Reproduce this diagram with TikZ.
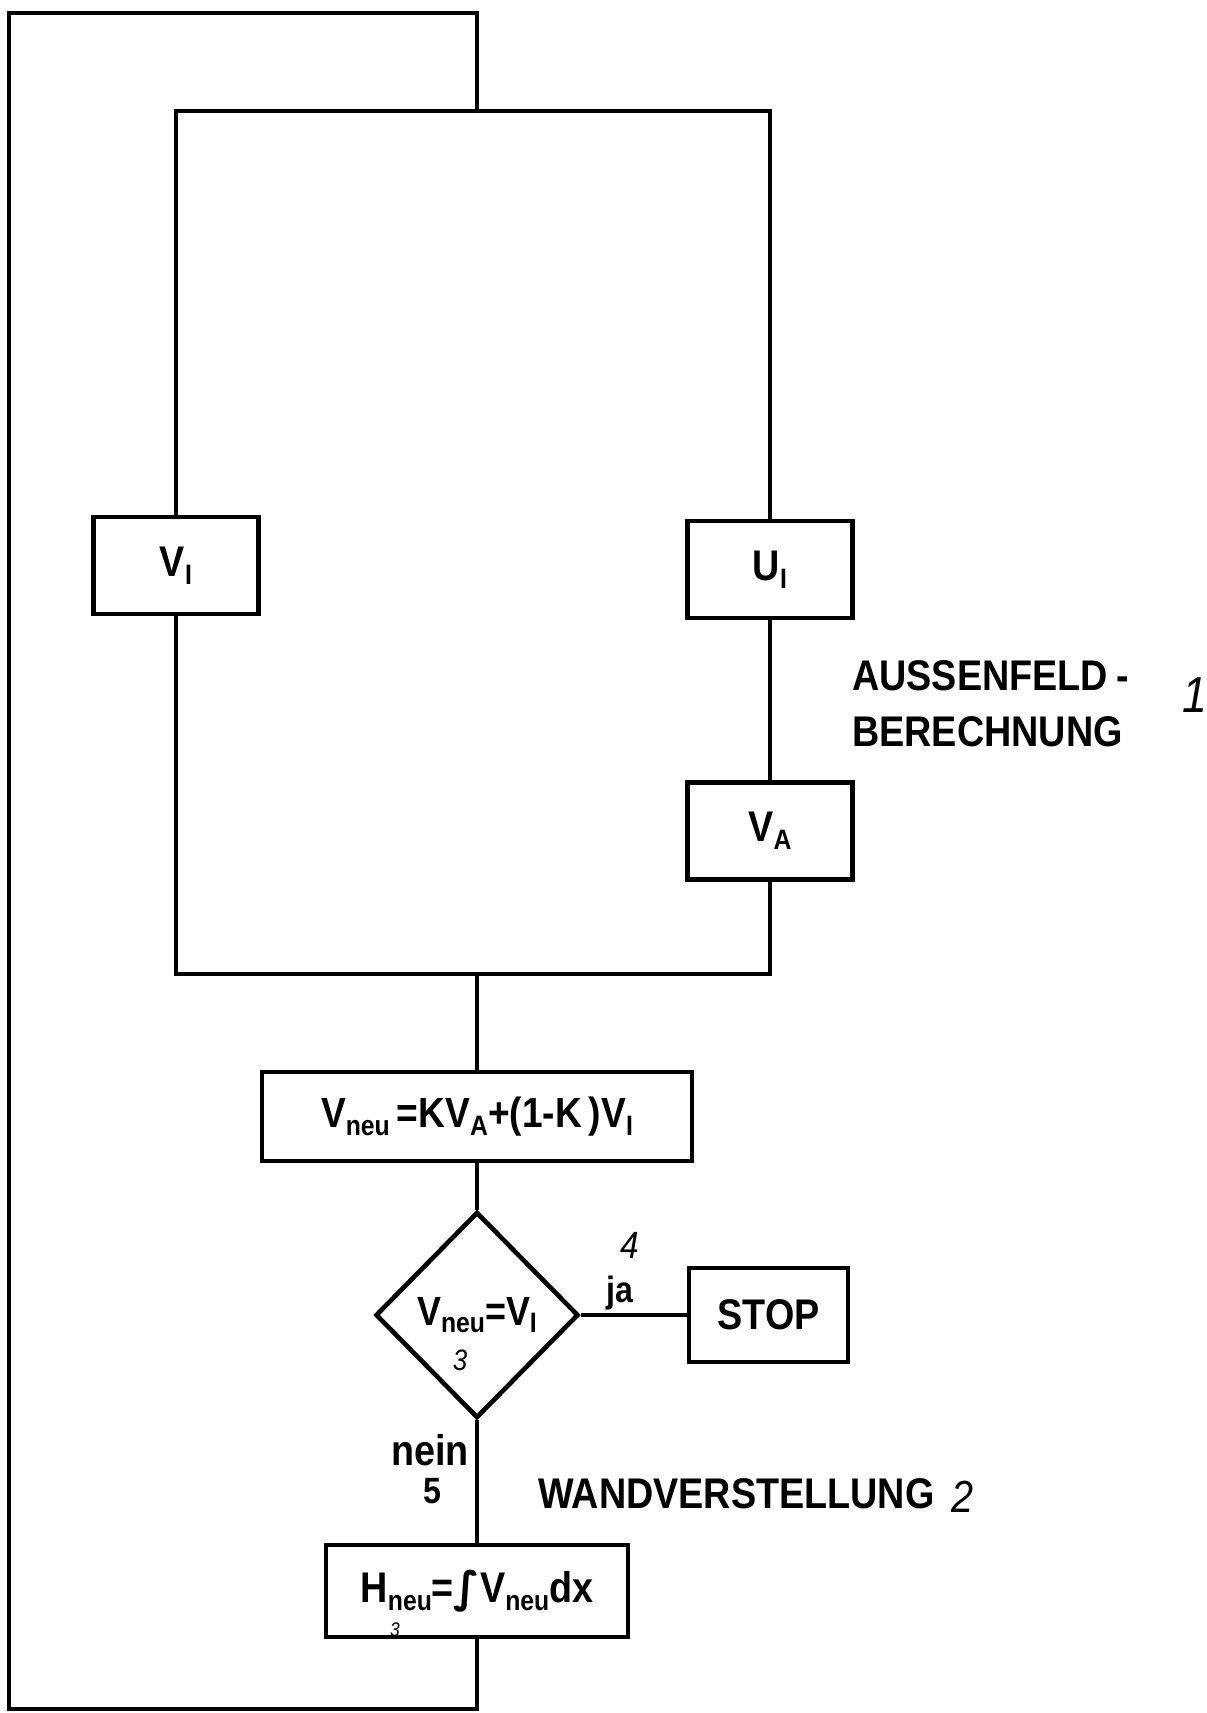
\documentclass[tikz,border=0pt]{standalone}
\usepackage{graphicx}
\usepackage{fontspec}
\setmainfont{Liberation Sans}[FakeStretch=0.88]
\newfontfamily\intfont{DejaVu Sans}
\usetikzlibrary{positioning,shapes.geometric}

% lowered small index
\newcommand{\lo}[1]{\raisebox{-0.18em}{\fontsize{20}{20}\selectfont #1}}

\begin{document}
\begin{tikzpicture}[
    x=0.025cm, y=-0.025cm,
    node distance=4cm,
    line/.style={line width=3.3pt},
    box/.style={draw, line width=3.3pt, fill=white, inner sep=0pt, minimum width=4.12cm, minimum height=2.42cm, font=\fontsize{30.5}{36}\selectfont\bfseries},
    widebox/.style={box, minimum width=10.75cm, minimum height=2.22cm, font=\fontsize{30}{34}\selectfont\bfseries},
    test/.style={draw, diamond, line width=3.3pt, fill=white, inner sep=0pt, minimum width=5.07cm, minimum height=5.15cm, font=\fontsize{29}{32}\selectfont\bfseries},
    lbl/.style={inner sep=0pt, font=\fontsize{30.5}{36}\selectfont\bfseries},
    small/.style={inner sep=0pt, font=\fontsize{26}{30}\selectfont\bfseries},
    hand/.style={inner sep=0pt, font=\fontsize{27}{30}\selectfont\itshape}
]
    \useasboundingbox (0,0) rectangle (1207,1713);

    \coordinate (top) at (477,111);
    \coordinate (join) at (477,974);
    \coordinate (tl) at (9,13);
    \coordinate (bl) at (9,1709);

    \node[box] (vi) at (176,565.5) {V\lo{I}};
    \node[box] (ui) at (770,569.5) {U\lo{I}};
    \node[box, below=of ui] (va) {V\lo{A}};
    \node[widebox] (vneu) at (477,1116.5) {V\lo{neu}\,=KV\lo{A}+(1-K\,)V\lo{I}};
    \node[test] (dia) at (477,1315) {V\lo{neu}=V\lo{I}};
    \node[box, minimum width=3.97cm, minimum height=2.35cm, right=2.65cm of dia] (stop) {STOP};
    \node[box, minimum width=7.55cm, minimum height=2.3cm] (hneu) at (477,1591) {H\lo{neu}={\intfont ∫}V\lo{neu}dx};

    \node[lbl, anchor=base west] (aussen) at (852,690) {AUSSENFELD\kern0.2em-};
    \node[lbl, anchor=base west] (berech) at (852,746) {BERECHNUNG};
    \node[hand, font=\fontsize{36}{40}\selectfont\itshape] (n1) at (1195,695) {1};
    \node[lbl, anchor=base west] (wand) at (538,1508) {WANDVERSTELLUNG};
    \node[hand, anchor=base, font=\fontsize{32}{36}\selectfont\itshape] (n2) at (962,1512) {2};
    \node[small, anchor=base] (ja) at (620,1302) {ja};
    \node[hand, anchor=base] (n4) at (630,1258) {4};
    \node[lbl, anchor=base] (nein) at (430,1465) {nein};
    \node[small, anchor=base] (n5) at (432,1503) {5};
    \node[hand, font=\fontsize{21}{23}\selectfont\itshape] (n3a) at (460,1360) {3};
    \node[hand, font=\fontsize{14}{15}\selectfont\itshape] (n3b) at (395,1630) {3};

    % inner loop
    \draw[line] (vi.north) |- (top) -| (ui.north);
    \draw[line] (ui) -- (va);
    \draw[line] (va.south) |- (join) -| (vi.south);
    % main branch
    \draw[line] (join) -- (vneu);
    \draw[line] (vneu) -- (dia);
    \draw[line] (dia) -- (stop);
    \draw[line] (dia) -- (hneu);
    % outer loop
    \draw[line] (hneu.south) |- (bl) -- (tl) -| (top);
\end{tikzpicture}
\end{document}
